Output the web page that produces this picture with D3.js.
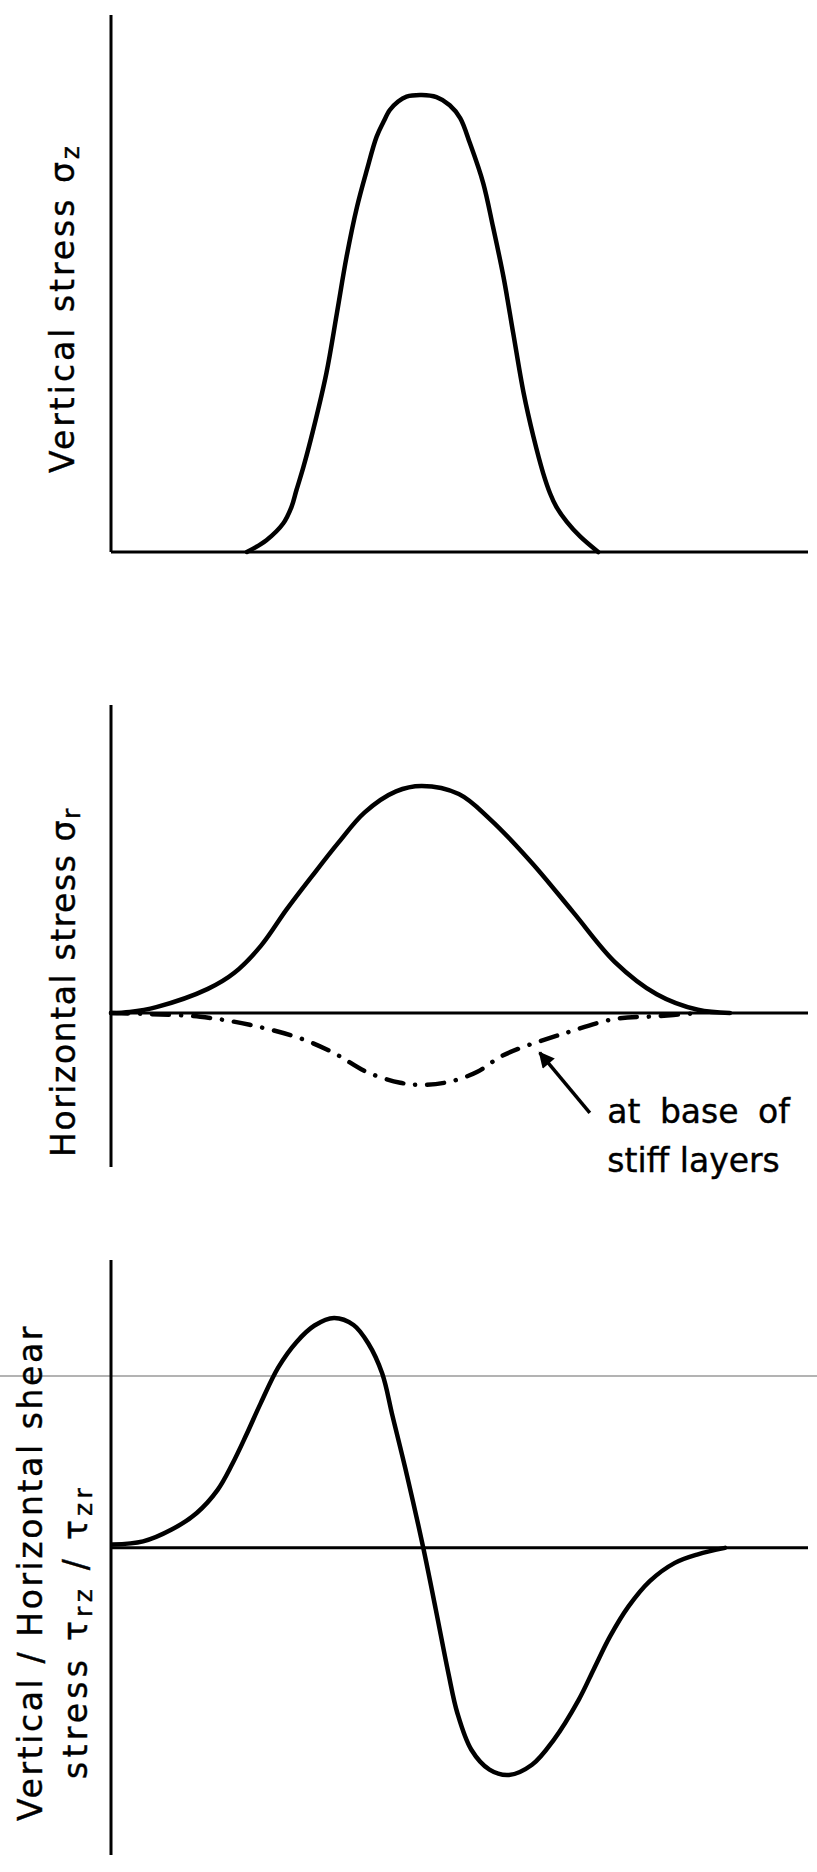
<!DOCTYPE html>
<html>
<head>
<meta charset="utf-8">
<script src="https://cdn.jsdelivr.net/npm/d3@7"></script>
<style>
  html, body { margin: 0; padding: 0; background: #fff; }
  text { font-family: "DejaVu Sans", sans-serif; fill: #000; }
</style>
</head>
<body>
<div id="chart"></div>
<script>
// distance along the surface: 0 = stress axis, 100 = right end of the base line
// stresses in arbitrary units (no scale on the original figure)

// vertical stress sigma_z
let vzX = [19.5, 22.3, 24.7, 25.9, 26.6, 27.6, 29.0, 30.9, 32.4, 33.8, 35.3, 36.7, 38.1, 39.1, 40.0,
           41.2, 42.4, 44.6, 46.7, 48.6, 50.1, 51.5, 53.4, 54.8, 56.3, 57.7, 59.2, 60.6, 62.0, 63.0,
           63.9, 65.4, 67.3, 69.9];
let vzY = [0, 2.2, 5.3, 8.4, 11.5, 15.8, 22.7, 33.3, 44.4, 55.0, 64.3, 71.1, 77.3, 80.1, 82.3,
           83.9, 84.8, 85.1, 84.7, 83.2, 80.8, 76.1, 68.7, 60.6, 51.3, 40.8, 29.6, 21.5, 14.7, 10.9,
           8.4, 5.6, 2.9, 0];

// horizontal stress sigma_r (surface layers)
let hrX = [0, 2.7, 6.5, 13.9, 17.7, 21.5, 25.2, 28.9, 32.6, 36.4, 40.9, 44.6, 49.9, 54.4, 60.3, 66.3, 72.3, 78.3, 84.2, 88.8];
let hrY = [0, 0.2, 1.1, 4.5, 7.5, 12.5, 19.3, 25.6, 31.7, 37.4, 41.3, 42.3, 40.8, 36.1, 28.1, 18.8, 9.5, 3.5, 0.6, 0];

// horizontal stress at base of stiff layers
let baseX = [0, 5.6, 12.8, 19.9, 27.1, 31.9, 36.7, 41.5, 44.8, 48.6, 52.5, 55.8, 58.8, 64.8, 72.3, 78.3, 84.2];
let baseY = [0, -0.2, -0.7, -2.2, -4.7, -7.4, -11.0, -13.0, -13.4, -12.8, -11.0, -8.2, -6.5, -3.9, -1.1, -0.6, 0];

// shear stress tau_rz / tau_zr
let shX = [0.2, 4.6, 8.7, 12.3, 15.3, 17.4, 19.4, 21.5, 24.0, 26.6, 29.2, 32.0, 34.8, 36.9, 38.9, 40.4, 42.5,
           44.8, 46.6, 48.4, 49.7, 51.7, 54.3, 57.1, 60.4, 63.5, 67.1, 69.3, 71.6, 74.2, 77.3, 80.9, 84.2, 88.1];
let shY = [0.6, 1.2, 3.4, 6.5, 10.8, 15.6, 21.0, 27.0, 33.6, 38.3, 41.4, 42.8, 41.5, 38.1, 32.5, 24.5, 13.3,
           0, -11.5, -23.3, -30.8, -37.6, -41.3, -42.3, -40.4, -35.8, -28.3, -22.5, -16.5, -11.0, -6.2, -2.8, -1.2, 0];

// axis extents of each panel (stress units)
let yDomains = [[0, 100], [-28.7, 57.4], [-57.2, 53.6]];

// arrow + note on the middle panel: [tailX, tailY, tipX, tipY]
let arrowPts = [68.7, -18.6, 61.5, -7.4];
let noteLines = ["at base of", "stiff layers"];

let width = 817,
    height = 1872;

let svg = d3.select("#chart")
            .append("svg")
            .attr("width", width)
            .attr("height", height)
            .style("display", "block");

svg.append("rect")
   .attr("width", width)
   .attr("height", height)
   .attr("fill", "#fff");

// stray scanner line across the bottom panel
svg.append("line")
   .attr("x1", 0).attr("x2", width)
   .attr("y1", 1376).attr("y2", 1376)
   .attr("stroke", "#9a9a9a")
   .attr("stroke-width", 1.3);

let xScale = d3.scaleLinear()
    .domain([0, 100])
    .range([111, 808]);

// pixel ranges of each panel's vertical axis (bottom, top)
let yRanges = [[552, 15], [1167, 705], [1855, 1260]];
let yScales = yDomains.map((d, i) => d3.scaleLinear().domain(d).range(yRanges[i]));

let zip = (xs, ys) => xs.map((x, i) => ({x: x, y: ys[i]}));

function drawAxes(y) {
    let g = svg.append("g");
    // vertical axis
    g.append("line")
     .attr("x1", xScale(0)).attr("x2", xScale(0))
     .attr("y1", y.range()[0]).attr("y2", y.range()[1])
     .attr("stroke", "#000")
     .attr("stroke-width", 3);
    // zero line
    g.append("line")
     .attr("x1", xScale(0)).attr("x2", xScale(100))
     .attr("y1", y(0)).attr("y2", y(0))
     .attr("stroke", "#000")
     .attr("stroke-width", 3);
}

function drawCurve(y, pts, dash) {
    let line = d3.line()
        .x(d => xScale(d.x))
        .y(d => y(d.y))
        .curve(d3.curveCatmullRom.alpha(0.5));

    let p = svg.append("path")
        .datum(pts)
        .attr("d", line)
        .attr("fill", "none")
        .attr("stroke", "#000")
        .attr("stroke-width", 4.5)
        .attr("stroke-linejoin", "round")
        .attr("stroke-linecap", "round");
    if (dash) p.attr("stroke-dasharray", dash);
}

// ----- PANELS -----
drawAxes(yScales[0]);
drawCurve(yScales[0], zip(vzX, vzY));

drawAxes(yScales[1]);
drawCurve(yScales[1], zip(hrX, hrY));
drawCurve(yScales[1], zip(baseX, baseY), "17,12,0.1,12");

drawAxes(yScales[2]);
drawCurve(yScales[2], zip(shX, shY));

// ----- ARROW + NOTE -----
svg.append("defs")
   .append("marker")
   .attr("id", "head")
   .attr("viewBox", "0 0 10 10")
   .attr("refX", 9).attr("refY", 5)
   .attr("markerWidth", 6).attr("markerHeight", 4.5)
   .attr("markerUnits", "strokeWidth")
   .attr("orient", "auto")
   .append("path")
   .attr("d", "M0,0 L10,5 L0,10 Z")
   .attr("fill", "#000");

svg.append("line")
   .attr("x1", xScale(arrowPts[0])).attr("y1", yScales[1](arrowPts[1]))
   .attr("x2", xScale(arrowPts[2])).attr("y2", yScales[1](arrowPts[3]))
   .attr("stroke", "#000")
   .attr("stroke-width", 3.5)
   .attr("marker-end", "url(#head)");

svg.selectAll(".note")
   .data(noteLines)
   .enter()
   .append("text")
   .attr("class", "note")
   .attr("x", xScale(71.2))
   .attr("y", (d, i) => yScales[1](-20.5 - i * 9.1))
   .style("font-size", "33px")
   .style("word-spacing", (d, i) => i === 0 ? "9px" : "0px")
   .attr("stroke", "#000")
   .attr("stroke-width", 0.4)
   .text(d => d);

// ----- AXIS LABELS (rotated) -----
// spread letters so each label fills the span it has in the figure
function label(x, y, len, parts) {
    let t = svg.append("text")
        .attr("transform", `translate(${x},${y}) rotate(-90)`)
        .attr("stroke", "#000")
        .attr("stroke-width", 0.4)
        .style("font-size", "33px");
    let shift = 0, n = 0;
    parts.forEach(p => {
        let s = t.append("tspan").text(p.t);
        let want = p.sub ? 5 : 0;
        if (want !== shift) s.attr("dy", want - shift);
        shift = want;
        n += p.t.length;
        if (p.sub) s.style("font-size", "25px");
    });
    let ls = 0;
    for (let k = 0; k < 4; k++) {
        let w = t.node().getBBox().width;
        ls += (len - w) / (n - 1);
        t.style("letter-spacing", ls + "px");
    }
}

label(74, 473, 330, [{t: "Vertical stress σ"}, {t: "z", sub: true}]);
label(75, 1157, 350, [{t: "Horizontal stress σ"}, {t: "r", sub: true}]);
label(42, 1821, 497, [{t: "Vertical / Horizontal shear"}]);
label(87, 1779, 295, [{t: "stress τ"}, {t: "rz", sub: true}, {t: " / τ"}, {t: "zr", sub: true}]);
</script>
</body>
</html>
